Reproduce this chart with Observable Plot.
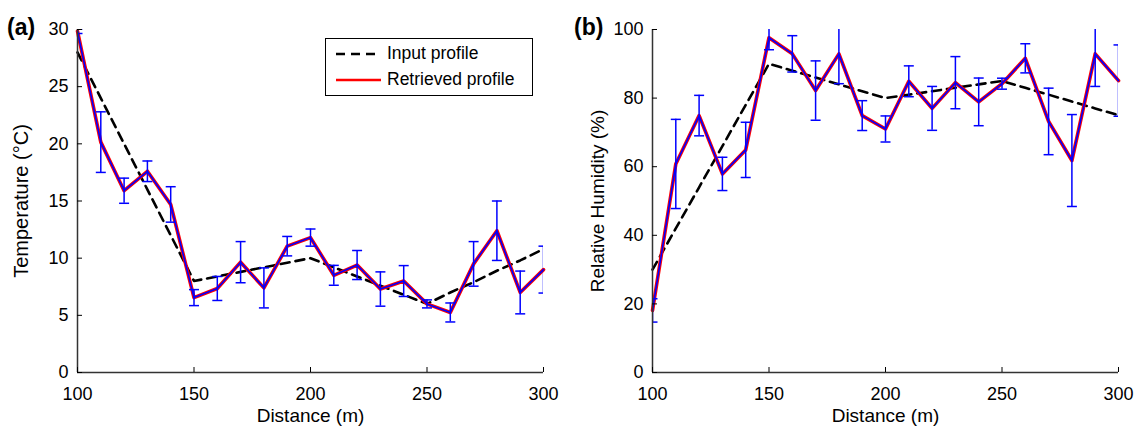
<!DOCTYPE html>
<html><head><meta charset="utf-8">
<script src="https://cdn.jsdelivr.net/npm/d3@7"></script>
<script src="https://cdn.jsdelivr.net/npm/@observablehq/plot@0.6"></script>
<style>
body{margin:0;background:#fff;font-family:"Liberation Sans",Arial,sans-serif;}
#wrap{position:relative;width:1135px;height:433px;background:#fff;overflow:hidden;}
.panel{position:absolute;top:0;}
.tag{position:absolute;font-weight:bold;font-size:23px;color:#000;z-index:5;}
#legend{position:absolute;left:325px;top:38px;width:206px;height:56px;border:1px solid #000;background:#fff;font-size:17.5px;color:#000;z-index:5;}
#legend .row{position:absolute;left:9px;display:flex;align-items:center;}
#legend .row span{margin-left:6px;}
</style></head><body>
<div id="wrap">
  <div id="pa" class="panel" style="left:0px"></div>
  <div id="pb" class="panel" style="left:560px"></div>
  <div class="tag" style="left:7px;top:14px">(a)</div>
  <div class="tag" style="left:574px;top:14px">(b)</div>
  <div id="legend">
    <div class="row" style="top:4px"><svg width="46" height="12"><line x1="1" y1="6" x2="46" y2="6" stroke="#000" stroke-width="2.6" stroke-dasharray="9,6"/></svg><span>Input profile</span></div>
    <div class="row" style="top:30px"><svg width="46" height="12"><line x1="1" y1="6" x2="46" y2="6" stroke="#f00" stroke-width="2.6"/></svg><span>Retrieved profile</span></div>
  </div>
</div>
<script>
const distance = [100,110,120,130,140,150,160,170,180,190,200,210,220,230,240,250,260,270,280,290,300];

const tempInput = [28,24,20,16,12,8.0,8.4,8.8,9.2,9.6,10.0,9.2,8.4,7.6,6.8,6.0,7.0,7.9,8.9,9.8,10.8];
const tempRetrieved = [29.85,20.15,15.9,17.6,14.7,6.55,7.35,9.65,7.4,11.05,11.8,8.5,9.4,7.3,8.0,6.0,5.25,9.5,12.4,7.0,9.0];
const tempError = [0.2,2.65,1.1,0.9,1.55,0.7,1.05,1.8,1.75,0.85,0.75,0.87,1.27,1.5,1.35,0.35,0.83,1.95,2.6,1.87,2.05];

const rhInput = [30,42,54,66,78,90,88,86,84,82,80,81,82,83,84,85,83,81,79,77,75];
const rhRetrieved = [18.1,60.8,74.9,57.9,64.9,97.6,92.9,82.2,92.9,74.9,71.0,84.9,77.0,84.5,78.9,84.2,91.6,73.2,61.8,92.9,85.1];
const rhError = [3.4,13.0,5.9,4.85,8.05,3.5,5.3,8.65,8.7,4.35,3.8,4.5,6.4,7.6,6.95,1.6,4.25,9.7,13.4,9.5,10.4];

const xTicks = [100,150,200,250,300];
const tempTicks = [0,5,10,15,20,25,30];
const rhTicks = [0,20,40,60,80,100];
const xLabel = "Distance (m)";
const tempLabel = "Temperature (°C)";
const rhLabel = "Relative Humidity (%)";

const cap = {draw(ctx){ctx.moveTo(-5,0);ctx.lineTo(5,0);}};

function panel(input, retr, err, yDomain, yTicks, yLabel, width, marginLeft, yLabelDx, yLabelSize){
  const inRows = distance.map((d,i)=>({d, v: input[i]}));
  const rows = distance.map((d,i)=>({d, v: retr[i], lo: retr[i]-err[i], hi: retr[i]+err[i]}));
  return Plot.plot({
    width, height: 433,
    marginLeft, marginRight: 17, marginTop: 29, marginBottom: 61,
    style: {fontFamily: '"Liberation Sans", Arial, sans-serif', fontSize: "18px", background: "#fff", color: "#000", overflow: "visible"},
    x: {domain: [100,300]},
    y: {domain: yDomain},
    marks: [
      Plot.line(inRows, {x:"d", y:"v", stroke:"#000", strokeWidth:2.6, strokeDasharray:"9,6"}),
      Plot.line(rows, {x:"d", y:"v", stroke:"#ff0000", strokeWidth:3.6}),
      Plot.line(rows, {x:"d", y:"v", stroke:"#0000ff", strokeWidth:1.6}),
      Plot.ruleX(rows, {x:"d", y1:"lo", y2:"hi", stroke:"#0000ff", strokeWidth:1.5, clip:true}),
      Plot.dot(rows, {x:"d", y:"lo", symbol: cap, stroke:"#0000ff", fill:"none", strokeWidth:1.5, clip:true}),
      Plot.dot(rows, {x:"d", y:"hi", symbol: cap, stroke:"#0000ff", fill:"none", strokeWidth:1.5, clip:true}),
      Plot.ruleX([100], {stroke:"#333", strokeWidth:1.5}),
      Plot.ruleY([yDomain[0]], {stroke:"#333", strokeWidth:1.5}),
      Plot.axisX({ticks: xTicks, tickSize: -5, tickPadding: 20, label: null, fontSize: 18}),
      Plot.axisY({ticks: yTicks, tickSize: -5, tickPadding: 14, label: null, fontSize: 18}),
      Plot.text([xLabel], {frameAnchor: "bottom", dy: 49, fontSize: 19, fill: "#000"}),
      Plot.text([yLabel], {frameAnchor: "left", dx: yLabelDx, rotate: -90, textAnchor: "middle", fontSize: yLabelSize, fill: "#000"})
    ]
  });
}

document.getElementById("pa").appendChild(panel(tempInput, tempRetrieved, tempError, [0,30], tempTicks, tempLabel, 560, 77, -56, 20));
document.getElementById("pb").appendChild(panel(rhInput, rhRetrieved, rhError, [0,100], rhTicks, rhLabel, 575, 92, -55, 19));
</script>
</body></html>
